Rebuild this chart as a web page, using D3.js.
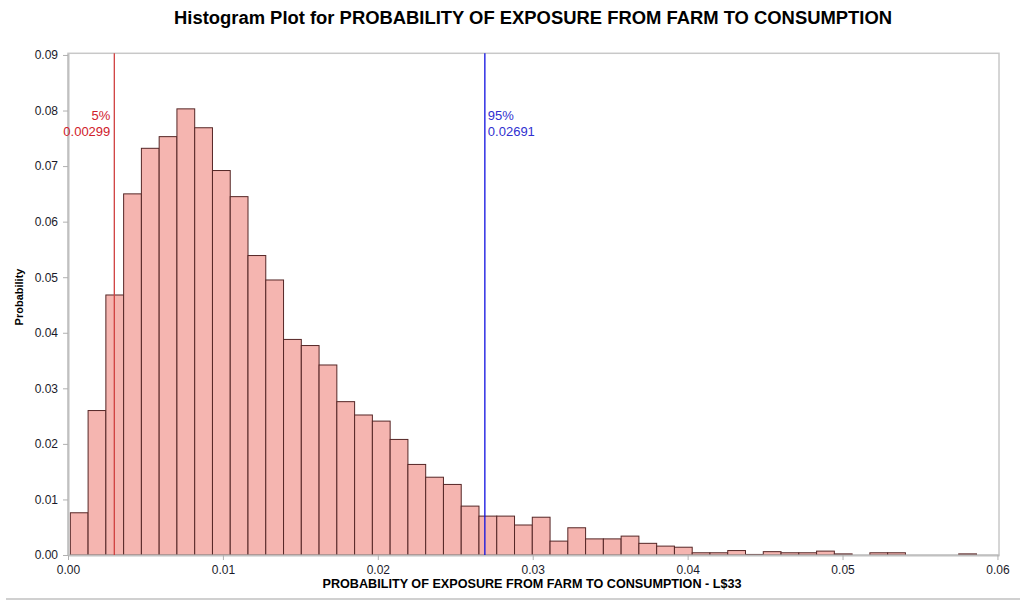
<!DOCTYPE html>
<html>
<head>
<meta charset="utf-8">
<script src="https://cdn.jsdelivr.net/npm/d3@7"></script>
<style>
  body { margin: 0; background: #fff; }
  text { font-family: "Liberation Sans", Arial, sans-serif; }
</style>
</head>
<body>
<div id="chart"></div>
<script>
// histogram bins: first lower edge and width (data units)
const binStart = 0.00015;
const binWidth = 0.001147;
// probability of each bin
const probabilities = [0.0076, 0.026, 0.0468, 0.065, 0.0732, 0.0753, 0.0803, 0.0769, 0.0692, 0.0645,
  0.0539, 0.0495, 0.0388, 0.0377, 0.0342, 0.0276, 0.0252, 0.0241, 0.0208, 0.0163,
  0.014, 0.0127, 0.0088, 0.007, 0.007, 0.0054, 0.0068, 0.0025, 0.0049, 0.0029,
  0.0029, 0.0034, 0.0021, 0.0016, 0.0014, 0.0004, 0.0004, 0.0008, 0.0001, 0.0006,
  0.0004, 0.0004, 0.0007, 0.0002, 0, 0.0004, 0.0004, 0, 0, 0, 0.0002];
const xTicks = [0, 0.01, 0.02, 0.03, 0.04, 0.05, 0.06];
const yTicks = [0, 0.01, 0.02, 0.03, 0.04, 0.05, 0.06, 0.07, 0.08, 0.09];
const percentiles = [
  { label: "5%", value: 0.00299, color: "#d0202a", line: "#d04040", side: "left" },
  { label: "95%", value: 0.02691, color: "#3030d0", line: "#1010e0", side: "right" }
];

const svg = d3.select("#chart")
  .append("svg")
  .attr("width", 1024)
  .attr("height", 601);

const x = d3.scaleLinear().domain([0, 0.0601]).range([68, 999]);
const y = d3.scaleLinear().domain([0, 0.0903]).range([555, 53.3]);

const bins = probabilities.map((p, i) => ({ x0: binStart + i * binWidth, x1: binStart + (i + 1) * binWidth, p: p }));

// title
svg.append("text")
  .attr("x", 533)
  .attr("y", 24)
  .attr("text-anchor", "middle")
  .attr("textLength", 718)
  .attr("lengthAdjust", "spacingAndGlyphs")
  .style("font-size", "18px")
  .style("font-weight", "bold")
  .text("Histogram Plot for PROBABILITY OF EXPOSURE FROM FARM TO CONSUMPTION");

// frame
svg.append("rect")
  .attr("x", x.range()[0])
  .attr("y", y.range()[1])
  .attr("width", x.range()[1] - x.range()[0])
  .attr("height", y.range()[0] - y.range()[1])
  .attr("fill", "none")
  .attr("stroke", "#c8c8c8")
  .attr("stroke-width", 1.5);

// bars
svg.selectAll("rect.bar")
  .data(bins.filter(d => d.p > 0))
  .enter()
  .append("rect")
  .attr("class", "bar")
  .attr("x", d => x(d.x0))
  .attr("y", d => y(d.p))
  .attr("width", d => x(d.x1) - x(d.x0))
  .attr("height", d => y(0) - y(d.p))
  .attr("fill", "#f5b5b0")
  .attr("stroke", "#552626")
  .attr("stroke-width", 1);

// axes
const xAxis = d3.axisBottom(x).tickValues(xTicks).tickFormat(d3.format(".2f")).tickSize(5).tickSizeOuter(0);
const gx = svg.append("g").attr("transform", "translate(0,555)").call(xAxis);
const yAxis = d3.axisLeft(y).tickValues(yTicks).tickFormat(d3.format(".2f")).tickSize(5).tickSizeOuter(0);
const gy = svg.append("g").attr("transform", "translate(68,0)").call(yAxis);

[gx, gy].forEach(g => {
  g.select(".domain").attr("stroke", "#c0c0c0").attr("stroke-width", 2);
  g.selectAll(".tick line").attr("stroke", "#b0b0b0");
  g.selectAll(".tick text")
    .attr("fill", "#1a1a2a")
    .style("font-family", "'Liberation Sans', Arial, sans-serif")
    .style("font-size", "12px");
});
gx.selectAll(".tick text").attr("dy", "0.95em");
gy.selectAll(".tick text").attr("x", -10);

// percentile lines
percentiles.forEach(pc => {
  svg.append("line")
    .attr("x1", x(pc.value)).attr("x2", x(pc.value))
    .attr("y1", y.range()[1]).attr("y2", y(0))
    .attr("stroke", pc.line)
    .attr("stroke-width", 1.3);
  const tx = pc.side === "left" ? x(pc.value) - 4 : x(pc.value) + 3;
  const anchor = pc.side === "left" ? "end" : "start";
  svg.append("text")
    .attr("x", tx).attr("y", 120)
    .attr("text-anchor", anchor)
    .attr("fill", pc.color)
    .style("font-size", "13px")
    .text(pc.label);
  svg.append("text")
    .attr("x", tx).attr("y", 136)
    .attr("text-anchor", anchor)
    .attr("fill", pc.color)
    .style("font-size", "13px")
    .text(d3.format(".5f")(pc.value));
});

// axis titles
svg.append("text")
  .attr("x", 532)
  .attr("y", 588)
  .attr("text-anchor", "middle")
  .attr("textLength", 419)
  .attr("lengthAdjust", "spacingAndGlyphs")
  .style("font-size", "12px")
  .style("font-weight", "bold")
  .text("PROBABILITY OF EXPOSURE FROM FARM TO CONSUMPTION - L$33");

svg.append("text")
  .attr("transform", "translate(23,297) rotate(-90)")
  .attr("text-anchor", "middle")
  .style("font-size", "11px")
  .style("font-weight", "bold")
  .text("Probability");

// bottom separator
svg.append("line")
  .attr("x1", 6).attr("x2", 1020)
  .attr("y1", 599).attr("y2", 599)
  .attr("stroke", "#c0c0c0")
  .attr("stroke-width", 1.5);
</script>
</body>
</html>
